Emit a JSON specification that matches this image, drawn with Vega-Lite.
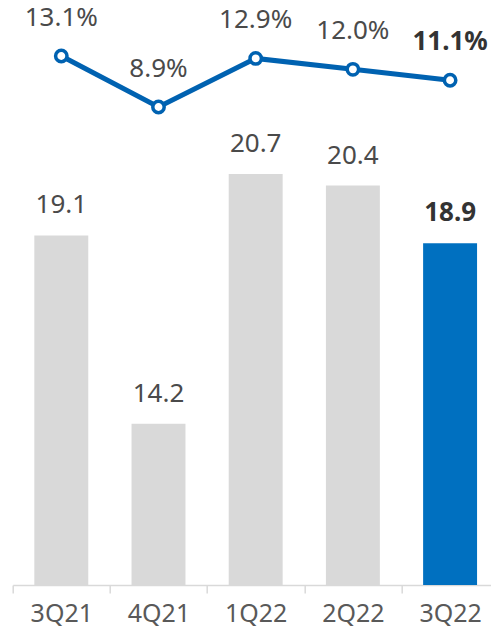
{
  "$schema": "https://vega.github.io/schema/vega-lite/v6.json",
  "autosize": "none",
  "width": 486,
  "height": 585,
  "padding": {"left": 12.7, "top": 0, "right": 0, "bottom": 43},
  "config": {"view": {"stroke": null}, "font": "Noto Sans"},
  "data": {
    "values": [
      {"q": "3Q21", "sales": 19.1, "margin": 13.1, "hl": "n", "salesLabel": "19.1", "marginLabel": "13.1%"},
      {"q": "4Q21", "sales": 14.2, "margin": 8.9, "hl": "n", "salesLabel": "14.2", "marginLabel": "8.9%"},
      {"q": "1Q22", "sales": 20.7, "margin": 12.9, "hl": "n", "salesLabel": "20.7", "marginLabel": "12.9%"},
      {"q": "2Q22", "sales": 20.4, "margin": 12.0, "hl": "n", "salesLabel": "20.4", "marginLabel": "12.0%"},
      {"q": "3Q22", "sales": 18.9, "margin": 11.1, "hl": "y", "salesLabel": "18.9", "marginLabel": "11.1%"}
    ]
  },
  "encoding": {
    "x": {
      "field": "q", "type": "nominal", "sort": null,
      "scale": {"paddingInner": 0, "paddingOuter": 0},
      "axis": {
        "title": null, "labelAngle": 0, "labelFontSize": 25, "labelColor": "#595959",
        "labelPadding": 9, "tickBand": "extent", "tickSize": 8, "tickColor": "#D9D9D9",
        "tickWidth": 1.5, "domainColor": "#D9D9D9", "domainWidth": 1.5, "grid": false
      }
    }
  },
  "layer": [
    {
      "layer": [
        {
          "mark": {"type": "bar", "width": {"band": 0.555}},
          "encoding": {
            "y": {"field": "sales", "type": "quantitative", "scale": {"domain": [10, 25.23], "zero": false, "nice": false}, "axis": null},
            "y2": {"datum": 10},
            "color": {"field": "hl", "type": "nominal", "scale": {"domain": ["n", "y"], "range": ["#D9D9D9", "#0070C0"]}, "legend": null}
          }
        },
        {
          "transform": [{"filter": "datum.hl == 'n'"}],
          "mark": {"type": "text", "baseline": "alphabetic", "dy": -22, "fontSize": 26, "color": "#4a4a4a"},
          "encoding": {
            "y": {"field": "sales", "type": "quantitative"},
            "text": {"field": "salesLabel"}
          }
        },
        {
          "transform": [{"filter": "datum.hl == 'y'"}],
          "mark": {"type": "text", "baseline": "alphabetic", "dy": -22, "fontSize": 26, "fontWeight": "bold", "color": "#333333"},
          "encoding": {
            "y": {"field": "sales", "type": "quantitative"},
            "text": {"field": "salesLabel"}
          }
        }
      ]
    },
    {
      "layer": [
        {
          "mark": {"type": "line", "color": "#0062B1", "strokeWidth": 5},
          "encoding": {
            "y": {"field": "margin", "type": "quantitative", "scale": {"domain": [-30.47, 17.71], "zero": false, "nice": false}, "axis": null}
          }
        },
        {
          "mark": {"type": "point", "filled": true, "fill": "white", "stroke": "#0062B1", "strokeWidth": 3.5, "size": 130, "opacity": 1},
          "encoding": {
            "y": {"field": "margin", "type": "quantitative"}
          }
        },
        {
          "transform": [{"filter": "datum.hl == 'n'"}],
          "mark": {"type": "text", "baseline": "alphabetic", "dy": -30, "fontSize": 26, "color": "#4a4a4a"},
          "encoding": {
            "y": {"field": "margin", "type": "quantitative"},
            "text": {"field": "marginLabel"}
          }
        },
        {
          "transform": [{"filter": "datum.hl == 'y'"}],
          "mark": {"type": "text", "baseline": "alphabetic", "dy": -30, "fontSize": 26, "fontWeight": "bold", "color": "#333333"},
          "encoding": {
            "y": {"field": "margin", "type": "quantitative"},
            "text": {"field": "marginLabel"}
          }
        }
      ]
    }
  ],
  "resolve": {"scale": {"y": "independent"}}
}
